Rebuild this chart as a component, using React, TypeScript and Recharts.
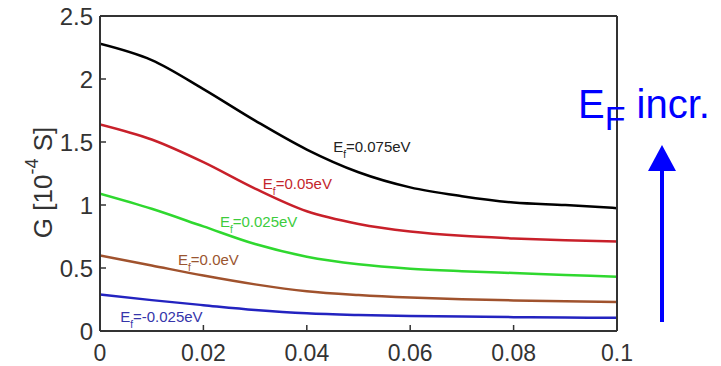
import React from 'react';
import { LineChart, Line, XAxis, YAxis, ReferenceDot } from 'recharts';

// x: source-drain bias / parameter (0 .. 0.1)
const xValues = [0, 0.01, 0.02, 0.03, 0.04, 0.05, 0.06, 0.07, 0.08, 0.09, 0.1];
// conductance G [1e-4 S] for each Fermi energy
const gEf0075 = [2.28, 2.15, 1.92, 1.67, 1.44, 1.26, 1.14, 1.07, 1.02, 1.0, 0.975];
const gEf005 = [1.64, 1.52, 1.34, 1.13, 0.95, 0.85, 0.79, 0.755, 0.735, 0.72, 0.71];
const gEf0025 = [1.09, 0.97, 0.83, 0.69, 0.59, 0.53, 0.495, 0.475, 0.46, 0.445, 0.43];
const gEf00 = [0.6, 0.52, 0.44, 0.37, 0.315, 0.285, 0.265, 0.252, 0.243, 0.236, 0.23];
const gEfm0025 = [0.29, 0.245, 0.205, 0.167, 0.14, 0.127, 0.12, 0.115, 0.11, 0.107, 0.105];

const xTicks = [0, 0.02, 0.04, 0.06, 0.08, 0.1];
const yTicks = [0, 0.5, 1, 1.5, 2, 2.5];

const seriesKeys = ['ef0075', 'ef005', 'ef0025', 'ef00', 'efm0025'];
const seriesValues = [gEf0075, gEf005, gEf0025, gEf00, gEfm0025];
const seriesColors = ['#000000', '#c8202a', '#2fd82f', '#a0522d', '#2323c0'];

// curve annotations: anchor in data units (x, G), text after the subscript
const labelX = [0.0451, 0.0315, 0.0232, 0.0151, 0.0039];
const labelY = [1.42, 1.127, 0.825, 0.524, 0.071];
const labelText = ['=0.075eV', '=0.05eV', '=0.025eV', '=0.0eV', '=-0.025eV'];
const labelColors = ['#222222', '#c4262c', '#3ccc3c', '#9a5530', '#3535aa'];

const data = xValues.map((x, i) => {
  const row: Record<string, number> = { x };
  seriesKeys.forEach((k, s) => {
    row[k] = seriesValues[s][i];
  });
  return row;
});

const FONT = '"Liberation Sans", Arial, Helvetica, sans-serif';
const AXIS_COLOR = '#333333';

const YLabel = (props: any) => {
  const vb = props.viewBox || { x: 0, y: 0, width: 0, height: 0 };
  const cx = vb.x + 3;
  const cy = vb.y + vb.height / 2 + 9;
  return (
    <text
      x={cx}
      y={cy}
      transform={`rotate(-90, ${cx}, ${cy})`}
      textAnchor="middle"
      dominantBaseline="central"
      fontFamily={FONT}
      fontSize={26}
      fill="#333333"
    >
      G [10
      <tspan fontSize={18} dy={-11}>
        -4
      </tspan>
      <tspan dy={11}> S]</tspan>
    </text>
  );
};

const makeCurveLabel = (text: string, color: string) => (props: any) => {
  const vb = props.viewBox || { x: 0, y: 0 };
  return (
    <text x={vb.x} y={vb.y} fontFamily={FONT} fontSize={15} fill={color}>
      E
      <tspan fontSize={10} dy={6}>
        f
      </tspan>
      <tspan dy={-6}>{text}</tspan>
    </text>
  );
};

export default function App() {
  return (
    <div style={{ position: 'absolute', left: 0, top: 0, width: 721, height: 366, background: '#fff' }}>
      <LineChart
        width={721}
        height={366}
        data={data}
        margin={{ top: 15, right: 103, bottom: 5, left: 40 }}
      >
        <XAxis
          dataKey="x"
          type="number"
          domain={[0, 0.1]}
          ticks={xTicks}
          interval={0}
          height={30}
          allowDataOverflow
          tickSize={-6}
          tickMargin={20}
          axisLine={{ stroke: AXIS_COLOR, strokeWidth: 2 }}
          tickLine={{ stroke: AXIS_COLOR, strokeWidth: 1.5 }}
          tick={{ fill: '#333333', fontSize: 23, fontFamily: FONT }}
        />
        <XAxis
          xAxisId="top"
          dataKey="x"
          type="number"
          orientation="top"
          domain={[0, 0.1]}
          ticks={xTicks}
          interval={0}
          height={1}
          allowDataOverflow
          tickSize={-6}
          tick={false}
          axisLine={{ stroke: AXIS_COLOR, strokeWidth: 2 }}
          tickLine={{ stroke: AXIS_COLOR, strokeWidth: 1.5 }}
        />
        <YAxis
          type="number"
          domain={[0, 2.5]}
          ticks={yTicks}
          interval={0}
          width={60}
          allowDataOverflow
          tickSize={-6}
          tickMargin={13}
          axisLine={{ stroke: AXIS_COLOR, strokeWidth: 2 }}
          tickLine={{ stroke: AXIS_COLOR, strokeWidth: 1.5 }}
          tick={{ fill: '#333333', fontSize: 24, fontFamily: FONT }}
          label={<YLabel />}
        />
        <YAxis
          yAxisId="right"
          orientation="right"
          type="number"
          domain={[0, 2.5]}
          ticks={yTicks}
          interval={0}
          width={1}
          allowDataOverflow
          tickSize={-6}
          tick={false}
          axisLine={{ stroke: AXIS_COLOR, strokeWidth: 2 }}
          tickLine={{ stroke: AXIS_COLOR, strokeWidth: 1.5 }}
        />
        {seriesKeys.map((k, s) => (
          <Line
            key={k}
            dataKey={k}
            type="monotone"
            stroke={seriesColors[s]}
            strokeWidth={2.5}
            dot={false}
            isAnimationActive={false}
          />
        ))}
        {labelText.map((t, i) => (
          <ReferenceDot
            key={t}
            x={labelX[i]}
            y={labelY[i]}
            r={0}
            fill="none"
            stroke="none"
            label={makeCurveLabel(t, labelColors[i])}
          />
        ))}
      </LineChart>
      <svg
        width={721}
        height={366}
        style={{ position: 'absolute', left: 0, top: 0, pointerEvents: 'none' }}
      >
        <text x={578} y={118} fontFamily={FONT} fontSize={40} fill="#0000ff">
          E
          <tspan fontSize={34} dy={12}>
            F
          </tspan>
          <tspan dy={-12}> incr.</tspan>
        </text>
        <line x1={662} y1={168} x2={662} y2={322} stroke="#0000ff" strokeWidth={4} />
        <polygon points="662,145 648,171 676,171" fill="#0000ff" />
      </svg>
    </div>
  );
}
